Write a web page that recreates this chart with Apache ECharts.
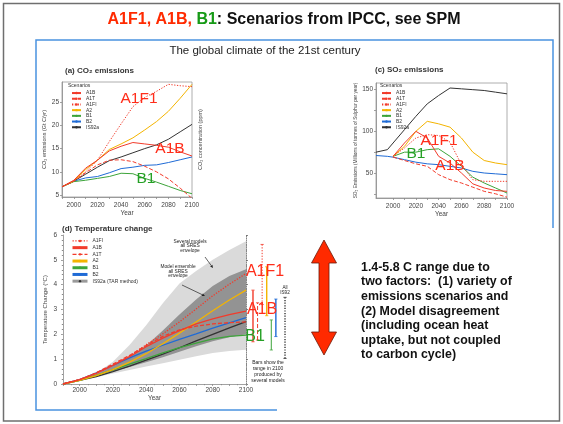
<!DOCTYPE html>
<html>
<head>
<meta charset="utf-8">
<script src="https://cdn.jsdelivr.net/npm/echarts@6/dist/echarts.min.js"></script>
<style>
  html, body { margin: 0; padding: 0; background: #fff; }
  #main { width: 563px; height: 424px; }
</style>
</head>
<body>
<div id="main"></div>
<script>
// ---- data ----
var years = [1990, 2000, 2010, 2020, 2030, 2040, 2050, 2060, 2070, 2080, 2090, 2100]

// (a) CO2 emissions, Gt C/yr
var co2A1B = [6.8, 8.2, 10.8, 12.5, 14.5, 15.5, 16.3, 16.0, 15.7, 15.3, 14.3, 13.4]
var co2A1T = [6.8, 8.0, 9.8, 11.5, 12.5, 12.6, 12.2, 11.2, 10.0, 8.5, 6.5, 4.3]
var co2A1FI = [6.8, 8.0, 10.0, 12.5, 16.5, 20.3, 24.0, 26.0, 27.3, 28.8, 28.5, 28.3]
var co2A2 = [6.8, 8.0, 10.5, 12.5, 14.8, 16.0, 17.3, 19.0, 20.8, 23.0, 25.8, 28.8]
var co2B1 = [6.8, 7.9, 8.2, 8.6, 9.0, 9.7, 9.6, 8.6, 7.8, 6.9, 6.0, 5.3]
var co2B2 = [6.8, 8.0, 8.7, 9.0, 9.8, 10.7, 11.0, 11.4, 11.5, 12.0, 12.6, 13.2]
var co2IS92a = [6.8, 8.0, 9.5, 11.0, 12.4, 13.2, 14.1, 15.0, 15.8, 17.0, 18.6, 20.2]

// (c) SO2 emissions, millions of tonnes of sulphur per year
var soYears = [1985, 1995, 2000, 2010, 2020, 2030, 2040, 2050, 2060, 2070, 2080, 2090, 2100]
var soA1B = [null, null, 70, 86, 100, 92, 70, 62, 50, 37, 32, 29, 28]
var soA1T = [null, null, 69, 65, 61, 58, 48, 42, 38, 33, 28, 25, 21]
var soA1FI = [null, null, 70, 80, 92, 96, 95, 87, 60, 42, 40, 40, 40]
var soA2 = [null, null, 70, 82, 100, 112, 109, 105, 92, 75, 65, 62, 60]
var soB1 = [null, null, 70, 75, 75, 78, 79, 70, 58, 45, 38, 32, 26]
var soB2 = [71, 70, 69, 66, 63, 61, 60, 58, 56, 52, 50, 49, 48]
var soIS92a = [75, 78, 86, 102, 118, 133, 143, 152, 151, 150, 149, 147, 145]

// (d) temperature change, deg C
var tLightLo = [0, 0.14, 0.27, 0.42, 0.56, 0.7, 0.84, 0.98, 1.12, 1.25, 1.33, 1.38]
var tLightHi = [0, 0.2, 0.43, 0.9, 1.57, 2.37, 3.25, 4.05, 4.55, 5.0, 5.4, 5.75]
var tDarkLo = [0, 0.15, 0.32, 0.5, 0.68, 0.88, 1.08, 1.3, 1.52, 1.72, 1.88, 2.0]
var tDarkHi = [0, 0.18, 0.4, 0.72, 1.1, 1.55, 2.15, 2.8, 3.4, 3.95, 4.35, 4.62]
var tA1FI = [0, 0.18, 0.43, 0.75, 1.12, 1.58, 2.02, 2.5, 3.02, 3.55, 4.02, 4.45]
var tA1B = [0, 0.18, 0.43, 0.75, 1.1, 1.5, 1.85, 2.15, 2.42, 2.62, 2.79, 2.93]
var tA1T = [0, 0.18, 0.45, 0.8, 1.15, 1.55, 1.92, 2.18, 2.33, 2.42, 2.47, 2.5]
var tA2 = [0, 0.15, 0.34, 0.58, 0.88, 1.22, 1.62, 2.05, 2.5, 2.95, 3.38, 3.78]
var tB1 = [0, 0.15, 0.35, 0.57, 0.8, 1.02, 1.25, 1.46, 1.65, 1.82, 1.92, 1.97]
var tB2 = [0, 0.18, 0.45, 0.75, 1.05, 1.32, 1.56, 1.8, 2.02, 2.25, 2.46, 2.67]
var tIS92a = [0, 0.15, 0.3, 0.5, 0.72, 0.96, 1.2, 1.46, 1.74, 2.0, 2.26, 2.51]

// range in 2100 from several models
var rangeNames = ['A1B', 'A1T', 'A1FI', 'A2', 'B1', 'B2', '', 'IS92a']
var rangeLow = [1.7, 1.77, 3.2, 2.75, 1.37, 1.91, null, 1.03]
var rangeHigh = [3.78, 3.27, 5.62, 4.72, 2.58, 3.42, null, 3.49]

var co2Ticks = [5, 10, 15, 20, 25]
var soLabels = [50, 100, 150]
var soTicks = [25, 50, 75, 100, 125, 150]
var soYearLabels = [2000, 2020, 2040, 2060, 2080, 2100]
var soYearTicks = [2000, 2010, 2020, 2030, 2040, 2050, 2060, 2070, 2080, 2090, 2100]

// ---- styles ----
var RED = '#f23b2b'
var scen = {
  A1B: { color: RED, dash: 'solid' },
  A1T: { color: RED, dash: [4, 2] },
  A1FI: { color: RED, dash: [1.3, 1.5] },
  A2: { color: '#f4b400', dash: 'solid' },
  B1: { color: '#3da43a', dash: 'solid' },
  B2: { color: '#1f6bd6', dash: 'solid' },
  IS92a: { color: '#333333', dash: 'solid' }
}
var FONT = '"Liberation Sans", Arial, sans-serif'
var AX = '#8a8a8a'
var LBL = '#444'

function pairs(xs, ys) {
  return xs.map(function (x, i) { return [x, ys[i]] }).filter(function (p) { return p[1] != null })
}

function lineSeries(name, xs, ys, xi, yi, width) {
  var s = scen[name]
  return {
    name: name, type: 'line', xAxisIndex: xi, yAxisIndex: yi,
    data: pairs(xs, ys), symbol: 'none', silent: true, z: 3,
    lineStyle: { color: s.color, width: width, type: s.dash },
    itemStyle: { color: s.color }
  }
}

// envelope drawn as one polygon between the low and high curves
function bandSeries(xs, lo, hi, color) {
  return {
    type: 'custom', xAxisIndex: 2, yAxisIndex: 4, silent: true, z: 1,
    data: xs.map(function (x, i) { return [x, lo[i], hi[i]] }),
    renderItem: function (params, api) {
      if (params.dataIndex !== 0) return
      var top = xs.map(function (x, i) { return api.coord([x, hi[i]]) })
      var bot = xs.map(function (x, i) { return api.coord([x, lo[i]]) }).reverse()
      return { type: 'polygon', shape: { points: top.concat(bot) }, style: { fill: color } }
    }
  }
}

function yearFmt(v) { return v % 20 === 0 ? String(v) : '' }

function axisCommon() {
  return {
    axisLine: { lineStyle: { color: AX, width: 0.8 } },
    axisTick: { length: 2, lineStyle: { color: AX, width: 0.8 } },
    splitLine: { show: false },
    nameTextStyle: { fontSize: 6.5, color: LBL, fontFamily: FONT }
  }
}

var names = ['A1B', 'A1T', 'A1FI', 'A2', 'B1', 'B2', 'IS92a']
var drawOrder = ['IS92a', 'B2', 'B1', 'A2', 'A1T', 'A1FI', 'A1B']
var co2Data = { A1B: co2A1B, A1T: co2A1T, A1FI: co2A1FI, A2: co2A2, B1: co2B1, B2: co2B2, IS92a: co2IS92a }
var soData = { A1B: soA1B, A1T: soA1T, A1FI: soA1FI, A2: soA2, B1: soB1, B2: soB2, IS92a: soIS92a }
var tData = { A1B: tA1B, A1T: tA1T, A1FI: tA1FI, A2: tA2, B1: tB1, B2: tB2, IS92a: tIS92a }

var series = []
drawOrder.forEach(function (n) { series.push(lineSeries(n, years, co2Data[n], 0, 0, 1)) })
drawOrder.forEach(function (n) { series.push(lineSeries(n, soYears, soData[n], 1, 2, 1)) })
series.push(bandSeries(years, tLightLo, tLightHi, '#dadada'))
series.push(bandSeries(years, tDarkLo, tDarkHi, '#939393'))
drawOrder.forEach(function (n) { series.push(lineSeries(n, years, tData[n], 2, 4, 1.3)) })

series.push({
  type: 'custom', xAxisIndex: 3, yAxisIndex: 6, silent: true, z: 4,
  data: rangeNames.map(function (n, i) { return [i, rangeLow[i], rangeHigh[i]] }).filter(function (d) { return d[1] != null }),
  renderItem: function (params, api) {
    var name = rangeNames[api.value(0)]
    var s = scen[name]
    var lo = api.coord([api.value(0), api.value(1)])
    var hi = api.coord([api.value(0), api.value(2)])
    var w = (s.dash === 'solid' && name !== 'B1') ? 1.4 : 1
    var dash = name === 'IS92a' ? [1.2, 1.4] : s.dash
    var st = { stroke: s.color, lineWidth: w, lineDash: dash === 'solid' ? null : dash }
    var cap = { stroke: s.color, lineWidth: 0.8 }
    return {
      type: 'group',
      children: [
        { type: 'line', shape: { x1: lo[0], y1: lo[1], x2: hi[0], y2: hi[1] }, style: st },
        { type: 'line', shape: { x1: lo[0] - 1.6, y1: lo[1], x2: lo[0] + 1.6, y2: lo[1] }, style: cap },
        { type: 'line', shape: { x1: hi[0] - 1.6, y1: hi[1], x2: hi[0] + 1.6, y2: hi[1] }, style: cap }
      ]
    }
  }
})

function legendBlock(order, left, top, iw, rowH, extra) {
  return Object.assign({
    orient: 'vertical', left: left, top: top, padding: 0, itemGap: 0,
    itemWidth: iw, itemHeight: 3, selectedMode: false,
    data: order,
    textStyle: { fontSize: 5, color: '#333', lineHeight: rowH, fontFamily: FONT }
  }, extra || {})
}

var tempLegendData = ['A1FI', 'A1B', 'A1T', 'A2', 'B1', 'B2', 'IS92a'].map(function (n) {
  var thin = n === 'A1FI' || n === 'A1T'
  return { name: n, lineStyle: { width: thin ? 1.2 : 3, color: n === 'IS92a' ? '#9a9a9a' : scen[n].color } }
})

// ---- text and decorations ----
function txt(x, y, text, size, color, extra) {
  return {
    type: 'text', x: x, y: y, z: 50, silent: true,
    style: Object.assign({ text: text, fontSize: size, fill: color, fontFamily: FONT, align: 'center', verticalAlign: 'middle' }, extra || {})
  }
}
function arrow(x1, y1, x2, y2) {
  var a = Math.atan2(y2 - y1, x2 - x1), L = 3, W = 1.4
  var bx = x2 - L * Math.cos(a), by = y2 - L * Math.sin(a)
  return [
    { type: 'line', z: 50, silent: true, shape: { x1: x1, y1: y1, x2: bx, y2: by }, style: { stroke: '#222', lineWidth: 0.7 } },
    { type: 'polygon', z: 50, silent: true, shape: { points: [[x2, y2], [bx - W * Math.sin(a), by + W * Math.cos(a)], [bx + W * Math.sin(a), by - W * Math.cos(a)]] }, style: { fill: '#222' } }
  ]
}

var bigRed = '#ff2d1a', bigGreen = '#25a025'
var graphics = [
  { type: 'rect', silent: true, shape: { x: 3.5, y: 3.5, width: 556, height: 417.5 }, style: { fill: 'none', stroke: '#6f6f6f', lineWidth: 1.5 } },
  { type: 'polyline', silent: true, shape: { points: [[277, 410], [36, 410], [36, 40], [553, 40], [553, 228]] }, style: { fill: 'none', stroke: '#4a92e0', lineWidth: 1.5 } },
  txt(284, 20, '{r|A1F1, A1B, }{g|B1}{k|: Scenarios from IPCC, see SPM}', 16, '#111', {
    fontWeight: 'bold',
    rich: {
      r: { fill: '#ff2a00', fontSize: 16, fontWeight: 'bold', fontFamily: FONT },
      g: { fill: '#169a16', fontSize: 16, fontWeight: 'bold', fontFamily: FONT },
      k: { fill: '#111', fontSize: 16, fontWeight: 'bold', fontFamily: FONT }
    }
  }),
  txt(265, 51, 'The global climate of the 21st century', 11.5, '#222'),
  txt(65, 71, '(a) CO\u2082 emissions', 8, '#333', { align: 'left', fontWeight: 'bold' }),
  txt(375, 70, '(c) SO\u2082 emissions', 8, '#333', { align: 'left', fontWeight: 'bold' }),
  txt(62, 229, '(d) Temperature change', 8, '#333', { align: 'left', fontWeight: 'bold' }),
  txt(68, 86, 'Scenarios', 5, '#333', { align: 'left' }),
  txt(380, 86, 'Scenarios', 5, '#333', { align: 'left' }),
  // scenario call-outs
  txt(139, 99, 'A1F1', 15.5, bigRed), txt(170, 149, 'A1B', 15.5, bigRed), txt(146, 179, 'B1', 15.5, bigGreen),
  txt(439, 141, 'A1F1', 15.5, bigRed), txt(450, 166, 'A1B', 15.5, bigRed), txt(416, 154, 'B1', 15.5, bigGreen),
  txt(265, 272, 'A1F1', 16, bigRed), txt(262, 310, 'A1B', 16, bigRed), txt(255, 337, 'B1', 16, bigGreen),
  // temperature annotations
  txt(190, 246, 'Several models\nall SRES\nenvelope', 4.8, '#222', { lineHeight: 4.6 }),
  txt(178, 271.5, 'Model ensemble\nall SRES\nenvelope', 4.8, '#222', { lineHeight: 4.6 }),
  txt(285, 290.5, 'All\nIS92', 4.6, '#222', { lineHeight: 4.8 }),
  txt(268, 372, 'Bars show the\nrange in 2100\nproduced by\nseveral models', 5, '#222', { lineHeight: 6 }),
  // double arrow
  { type: 'polygon', silent: true, z: 50,
    shape: { points: [[324, 240], [336.5, 263], [329, 263], [329, 332], [336.5, 332], [324, 355], [311.5, 332], [319, 332], [319, 263], [311.5, 263]] },
    style: { fill: '#ff2a00', stroke: '#6b1a0a', lineWidth: 0.8 } },
  txt(361, 260, '1.4-5.8 C range due to\ntwo factors:  (1) variety of\nemissions scenarios and\n(2) Model disagreement\n(including ocean heat\nuptake, but not coupled\nto carbon cycle)', 12.4, '#111',
    { align: 'left', verticalAlign: 'top', fontWeight: 'bold', lineHeight: 14.6 })
].concat(arrow(205, 257, 213, 268), arrow(182, 285, 205, 296))

var chart = echarts.init(document.getElementById('main'), null, { renderer: 'canvas' })
chart.setOption({
  animation: false,
  backgroundColor: '#fff',
  textStyle: { fontFamily: FONT },
  grid: [
    { left: 62, top: 82, width: 130, height: 115, show: true, borderColor: '#999', borderWidth: 0.8 },
    { left: 376, top: 83, width: 131, height: 115, show: true, borderColor: '#999', borderWidth: 0.8 },
    { left: 63, top: 235, width: 183, height: 149 },
    { left: 250.7, top: 235, width: 36.6, height: 149 }
  ],
  xAxis: [
    Object.assign(axisCommon(), { type: 'value', gridIndex: 0, min: 1990, max: 2100, interval: 10,
      axisLabel: { fontSize: 6.5, color: LBL, margin: 5, formatter: yearFmt },
      name: 'Year', nameLocation: 'middle', nameGap: 12.5 }),
    Object.assign(axisCommon(), { type: 'value', gridIndex: 1, min: 1985, max: 2100,
      axisLabel: { fontSize: 6.5, color: LBL, margin: 5, customValues: soYearLabels, formatter: function (v) { return String(v) } },
      axisTick: { length: 2, lineStyle: { color: AX, width: 0.8 }, customValues: soYearTicks },
      name: 'Year', nameLocation: 'middle', nameGap: 12 }),
    Object.assign(axisCommon(), { type: 'value', gridIndex: 2, min: 1990, max: 2100, interval: 10,
      axisLabel: { fontSize: 6.5, color: LBL, margin: 3, formatter: yearFmt },
      minorTick: { show: true, splitNumber: 2, length: 1.2, lineStyle: { color: AX } },
      name: 'Year', nameLocation: 'middle', nameGap: 11 }),
    { type: 'category', gridIndex: 3, data: rangeNames, show: false }
  ],
  yAxis: [
    Object.assign(axisCommon(), { type: 'value', gridIndex: 0, min: 4.6, max: 29.3,
      axisLabel: { fontSize: 6.5, color: LBL, margin: 3, customValues: co2Ticks },
      axisTick: { length: 2, lineStyle: { color: AX, width: 0.8 }, customValues: co2Ticks },
      name: 'CO\u2082 emissions (Gt C/yr)', nameLocation: 'middle', nameGap: 14,
      nameTextStyle: { fontSize: 5.5, color: LBL } }),
    { type: 'value', gridIndex: 0, position: 'right', min: 4.6, max: 29.3,
      axisLine: { show: false }, axisTick: { show: false }, axisLabel: { show: false }, splitLine: { show: false },
      name: 'CO\u2082 concentration (ppm)', nameLocation: 'middle', nameGap: 5, nameRotate: 90,
      nameTextStyle: { fontSize: 5.5, color: LBL } },
    Object.assign(axisCommon(), { type: 'value', gridIndex: 1, min: 20, max: 158,
      axisLabel: { fontSize: 6.5, color: LBL, margin: 3, customValues: soLabels },
      axisTick: { length: 2, lineStyle: { color: AX, width: 0.8 }, customValues: soTicks },
      name: 'SO\u2082 Emissions (Millions of tonnes of Sulphur per year)', nameLocation: 'middle', nameGap: 17,
      nameTextStyle: { fontSize: 4.8, color: LBL } }),
    { type: 'value', gridIndex: 1, position: 'right', min: 20, max: 158, show: false },
    Object.assign(axisCommon(), { type: 'value', gridIndex: 2, min: 0, max: 6, interval: 1,
      axisLabel: { fontSize: 6.5, color: LBL, margin: 6 },
      minorTick: { show: true, splitNumber: 5, length: 1.2, lineStyle: { color: AX } },
      name: 'Temperature Change (\u00b0C)', nameLocation: 'middle', nameGap: 15,
      nameTextStyle: { fontSize: 6, color: LBL } }),
    { type: 'value', gridIndex: 2, position: 'right', min: 0, max: 6, interval: 1,
      axisLine: { show: true, lineStyle: { color: '#666', width: 0.8, type: [1, 1.2] } },
      axisTick: { show: true, length: 2, lineStyle: { color: '#666', width: 0.8 } },
      minorTick: { show: true, splitNumber: 5, length: 1, lineStyle: { color: '#888' } },
      axisLabel: { show: false }, splitLine: { show: false } },
    { type: 'value', gridIndex: 3, min: 0, max: 6, show: false }
  ],
  legend: [
    legendBlock(names, 71, 90.2, 9, 5.7),
    legendBlock(names, 381, 90.2, 9, 5.7),
    legendBlock(tempLegendData, 71, 237.6, 15, 6.7, {
      formatter: function (n) { return n === 'IS92a' ? 'IS92a (TAR method)' : n }
    })
  ],
  graphic: graphics,
  series: series
})
</script>
</body>
</html>
